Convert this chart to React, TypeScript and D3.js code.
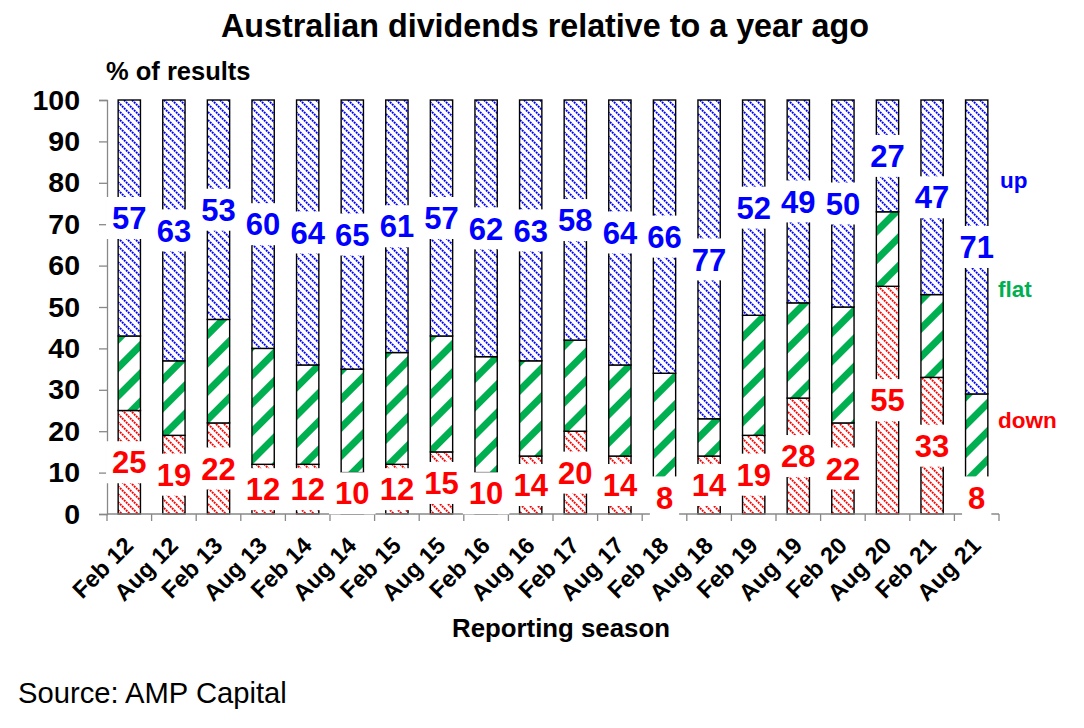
import React, { useRef, useEffect } from "react";
import * as d3 from "d3";

const seasons = [
    "Feb 12", "Aug 12", "Feb 13", "Aug 13", "Feb 14", "Aug 14", "Feb 15",
    "Aug 15", "Feb 16", "Aug 16", "Feb 17", "Aug 17", "Feb 18", "Aug 18",
    "Feb 19", "Aug 19", "Feb 20", "Aug 20", "Feb 21", "Aug 21",
];
const upPct = [57, 63, 53, 60, 64, 65, 61, 57, 62, 63, 58, 64, 66, 77, 52, 49, 50, 27, 47, 71];
const flatPct = [18, 18, 25, 28, 24, 25, 27, 28, 28, 23, 22, 22, 26, 9, 29, 23, 28, 18, 20, 21];
const downPct = [25, 19, 22, 12, 12, 10, 12, 15, 10, 14, 20, 14, 8, 14, 19, 28, 22, 55, 33, 8];
const yTicks = [0, 10, 20, 30, 40, 50, 60, 70, 80, 90, 100];

const FONT = "'Liberation Sans', Arial, sans-serif";
const BLUE = "#0000ff";
const GREEN = "#00b050";
const RED = "#ff0000";

type Row = { season: string; down: number; flat: number; up: number };

const rows: Row[] = seasons.map((s, i) => ({
    season: s,
    down: downPct[i],
    flat: flatPct[i],
    up: upPct[i],
}));

export const DividendsChart = () => {
    const svgRef = useRef<SVGSVGElement>(null);

    useEffect(() => {
        if (!svgRef.current) return;
        const svg = d3.select(svgRef.current);
        svg.selectAll("*").remove();

        const width = 1084;
        const height = 728;
        const plot = { left: 107, right: 999, top: 100, bottom: 514 };

        const x = d3
            .scaleBand()
            .domain(seasons)
            .range([plot.left, plot.right])
            .paddingInner(0.5)
            .paddingOuter(0.25);

        const y = d3.scaleLinear().domain([0, 100]).range([plot.bottom, plot.top]);

        // hatch patterns: dotted "\" lines for up/down, wide "/" stripes for flat
        const defs = svg.append("defs");
        const dotted = (id: string, color: string) => {
            const p = defs
                .append("pattern")
                .attr("id", id)
                .attr("patternUnits", "userSpaceOnUse")
                .attr("width", 8)
                .attr("height", 8);
            p.append("rect").attr("width", 8).attr("height", 8).attr("fill", "#fff");
            p.selectAll("line")
                .data([
                    [-1, -1, 9, 9],
                    [7, -1, 9, 1],
                    [-1, 7, 1, 9],
                ])
                .join("line")
                .attr("x1", (d) => d[0])
                .attr("y1", (d) => d[1])
                .attr("x2", (d) => d[2])
                .attr("y2", (d) => d[3])
                .attr("stroke", color)
                .attr("stroke-width", 1.9)
                .attr("stroke-dasharray", "1.9 0.93")
                .attr("stroke-dashoffset", 1.42);
        };
        dotted("hatch-up", BLUE);
        dotted("hatch-down", RED);

        const g = defs
            .append("pattern")
            .attr("id", "hatch-flat")
            .attr("patternUnits", "userSpaceOnUse")
            .attr("width", 20)
            .attr("height", 20)
            .attr("patternTransform", "rotate(45)");
        g.append("rect").attr("width", 20).attr("height", 20).attr("fill", "#fff");
        g.append("rect").attr("width", 7).attr("height", 20).attr("fill", GREEN);

        const fills: Record<string, string> = {
            down: "url(#hatch-down)",
            flat: "url(#hatch-flat)",
            up: "url(#hatch-up)",
        };

        const stacked = d3.stack<Row>().keys(["down", "flat", "up"])(rows);

        // bars
        svg.append("g")
            .selectAll("g")
            .data(stacked)
            .join("g")
            .attr("fill", (d) => fills[d.key])
            .selectAll("rect")
            .data((d) => d)
            .join("rect")
            .attr("x", (d) => x(d.data.season) || 0)
            .attr("width", x.bandwidth())
            .attr("y", (d) => y(d[1]))
            .attr("height", (d) => y(d[0]) - y(d[1]))
            .attr("stroke", "#000")
            .attr("stroke-width", 1.4);

        // y axis
        const yAxis = svg
            .append("g")
            .attr("transform", `translate(${plot.left},0)`)
            .call(d3.axisLeft(y).tickValues(yTicks).tickSize(8).tickPadding(19));
        yAxis.select(".domain").attr("stroke", "#888").attr("stroke-width", 1.3);
        yAxis.selectAll(".tick line").attr("stroke", "#888").attr("stroke-width", 1.3);
        yAxis
            .selectAll(".tick text")
            .attr("fill", "#000")
            .style("font", `bold 28.5px ${FONT}`);

        // x axis line and boundary ticks
        const gap = (x.step() - x.bandwidth()) / 2;
        const bounds = seasons.map((s) => (x(s) || 0) - gap);
        bounds.push(plot.right);
        const xAxis = svg.append("g");
        xAxis
            .append("line")
            .attr("x1", plot.left)
            .attr("x2", plot.right)
            .attr("y1", plot.bottom)
            .attr("y2", plot.bottom)
            .attr("stroke", "#888")
            .attr("stroke-width", 1.3);
        xAxis
            .selectAll("line.tk")
            .data(bounds)
            .join("line")
            .attr("class", "tk")
            .attr("x1", (d) => d)
            .attr("x2", (d) => d)
            .attr("y1", plot.bottom)
            .attr("y2", plot.bottom + 7)
            .attr("stroke", "#888")
            .attr("stroke-width", 1.3);
        xAxis
            .selectAll("text")
            .data(seasons)
            .join("text")
            .attr(
                "transform",
                (d) => `translate(${(x(d) || 0) + x.bandwidth() / 2 + 5.5},547) rotate(-45)`
            )
            .attr("text-anchor", "end")
            .style("font", `bold 23.5px ${FONT}`)
            .text((d) => d);

        // data labels with white boxes
        const labelLayer = svg.append("g");
        const addLabel = (cx: number, cy: number, txt: string, color: string) => {
            const grp = labelLayer.append("g");
            const r = grp.append("rect").attr("fill", "#fff");
            const t = grp
                .append("text")
                .attr("x", cx)
                .attr("y", cy)
                .attr("dy", "0.36em")
                .attr("text-anchor", "middle")
                .attr("fill", color)
                .style("font", `bold 31px ${FONT}`)
                .text(txt);
            const w = (t.node() as SVGTextElement).getComputedTextLength();
            r.attr("x", cx - w / 2 - 6)
                .attr("y", cy - 21)
                .attr("width", w + 12)
                .attr("height", 42);
        };
        const upLayer = stacked[2];
        const downLayer = stacked[0];
        rows.forEach((row, i) => {
            const cx = (x(row.season) || 0) + x.bandwidth() / 2;
            addLabel(cx, y((upLayer[i][0] + upLayer[i][1]) / 2), String(row.up), BLUE);
            addLabel(cx, y((downLayer[i][0] + downLayer[i][1]) / 2), String(row.down), RED);
        });

        // series names on the right
        const names = [
            { text: "up", color: BLUE, x: 1000, y: 188 },
            { text: "flat", color: GREEN, x: 998, y: 297 },
            { text: "down", color: RED, x: 998, y: 428 },
        ];
        svg.append("g")
            .selectAll("text")
            .data(names)
            .join("text")
            .attr("x", (d) => d.x)
            .attr("y", (d) => d.y)
            .attr("fill", (d) => d.color)
            .style("font", `bold 22.5px ${FONT}`)
            .text((d) => d.text);

        // titles
        svg.append("text")
            .attr("x", 545)
            .attr("y", 37)
            .attr("text-anchor", "middle")
            .style("font", `bold 32.3px ${FONT}`)
            .text("Australian dividends relative to a year ago");
        svg.append("text")
            .attr("x", 106)
            .attr("y", 80)
            .style("font", `bold 25.5px ${FONT}`)
            .text("% of results");
        svg.append("text")
            .attr("x", 561)
            .attr("y", 637)
            .attr("text-anchor", "middle")
            .style("font", `bold 25.8px ${FONT}`)
            .text("Reporting season");
        svg.append("text")
            .attr("x", 18)
            .attr("y", 703)
            .style("font", `29.2px ${FONT}`)
            .text("Source: AMP Capital");

        svg.attr("width", width).attr("height", height).attr("viewBox", [0, 0, width, height]);
    }, []);

    return (
        <svg
            ref={svgRef}
            style={{ position: "absolute", left: 0, top: 0, background: "#fff" }}
        />
    );
};

export default function App() {
    return <DividendsChart />;
}
